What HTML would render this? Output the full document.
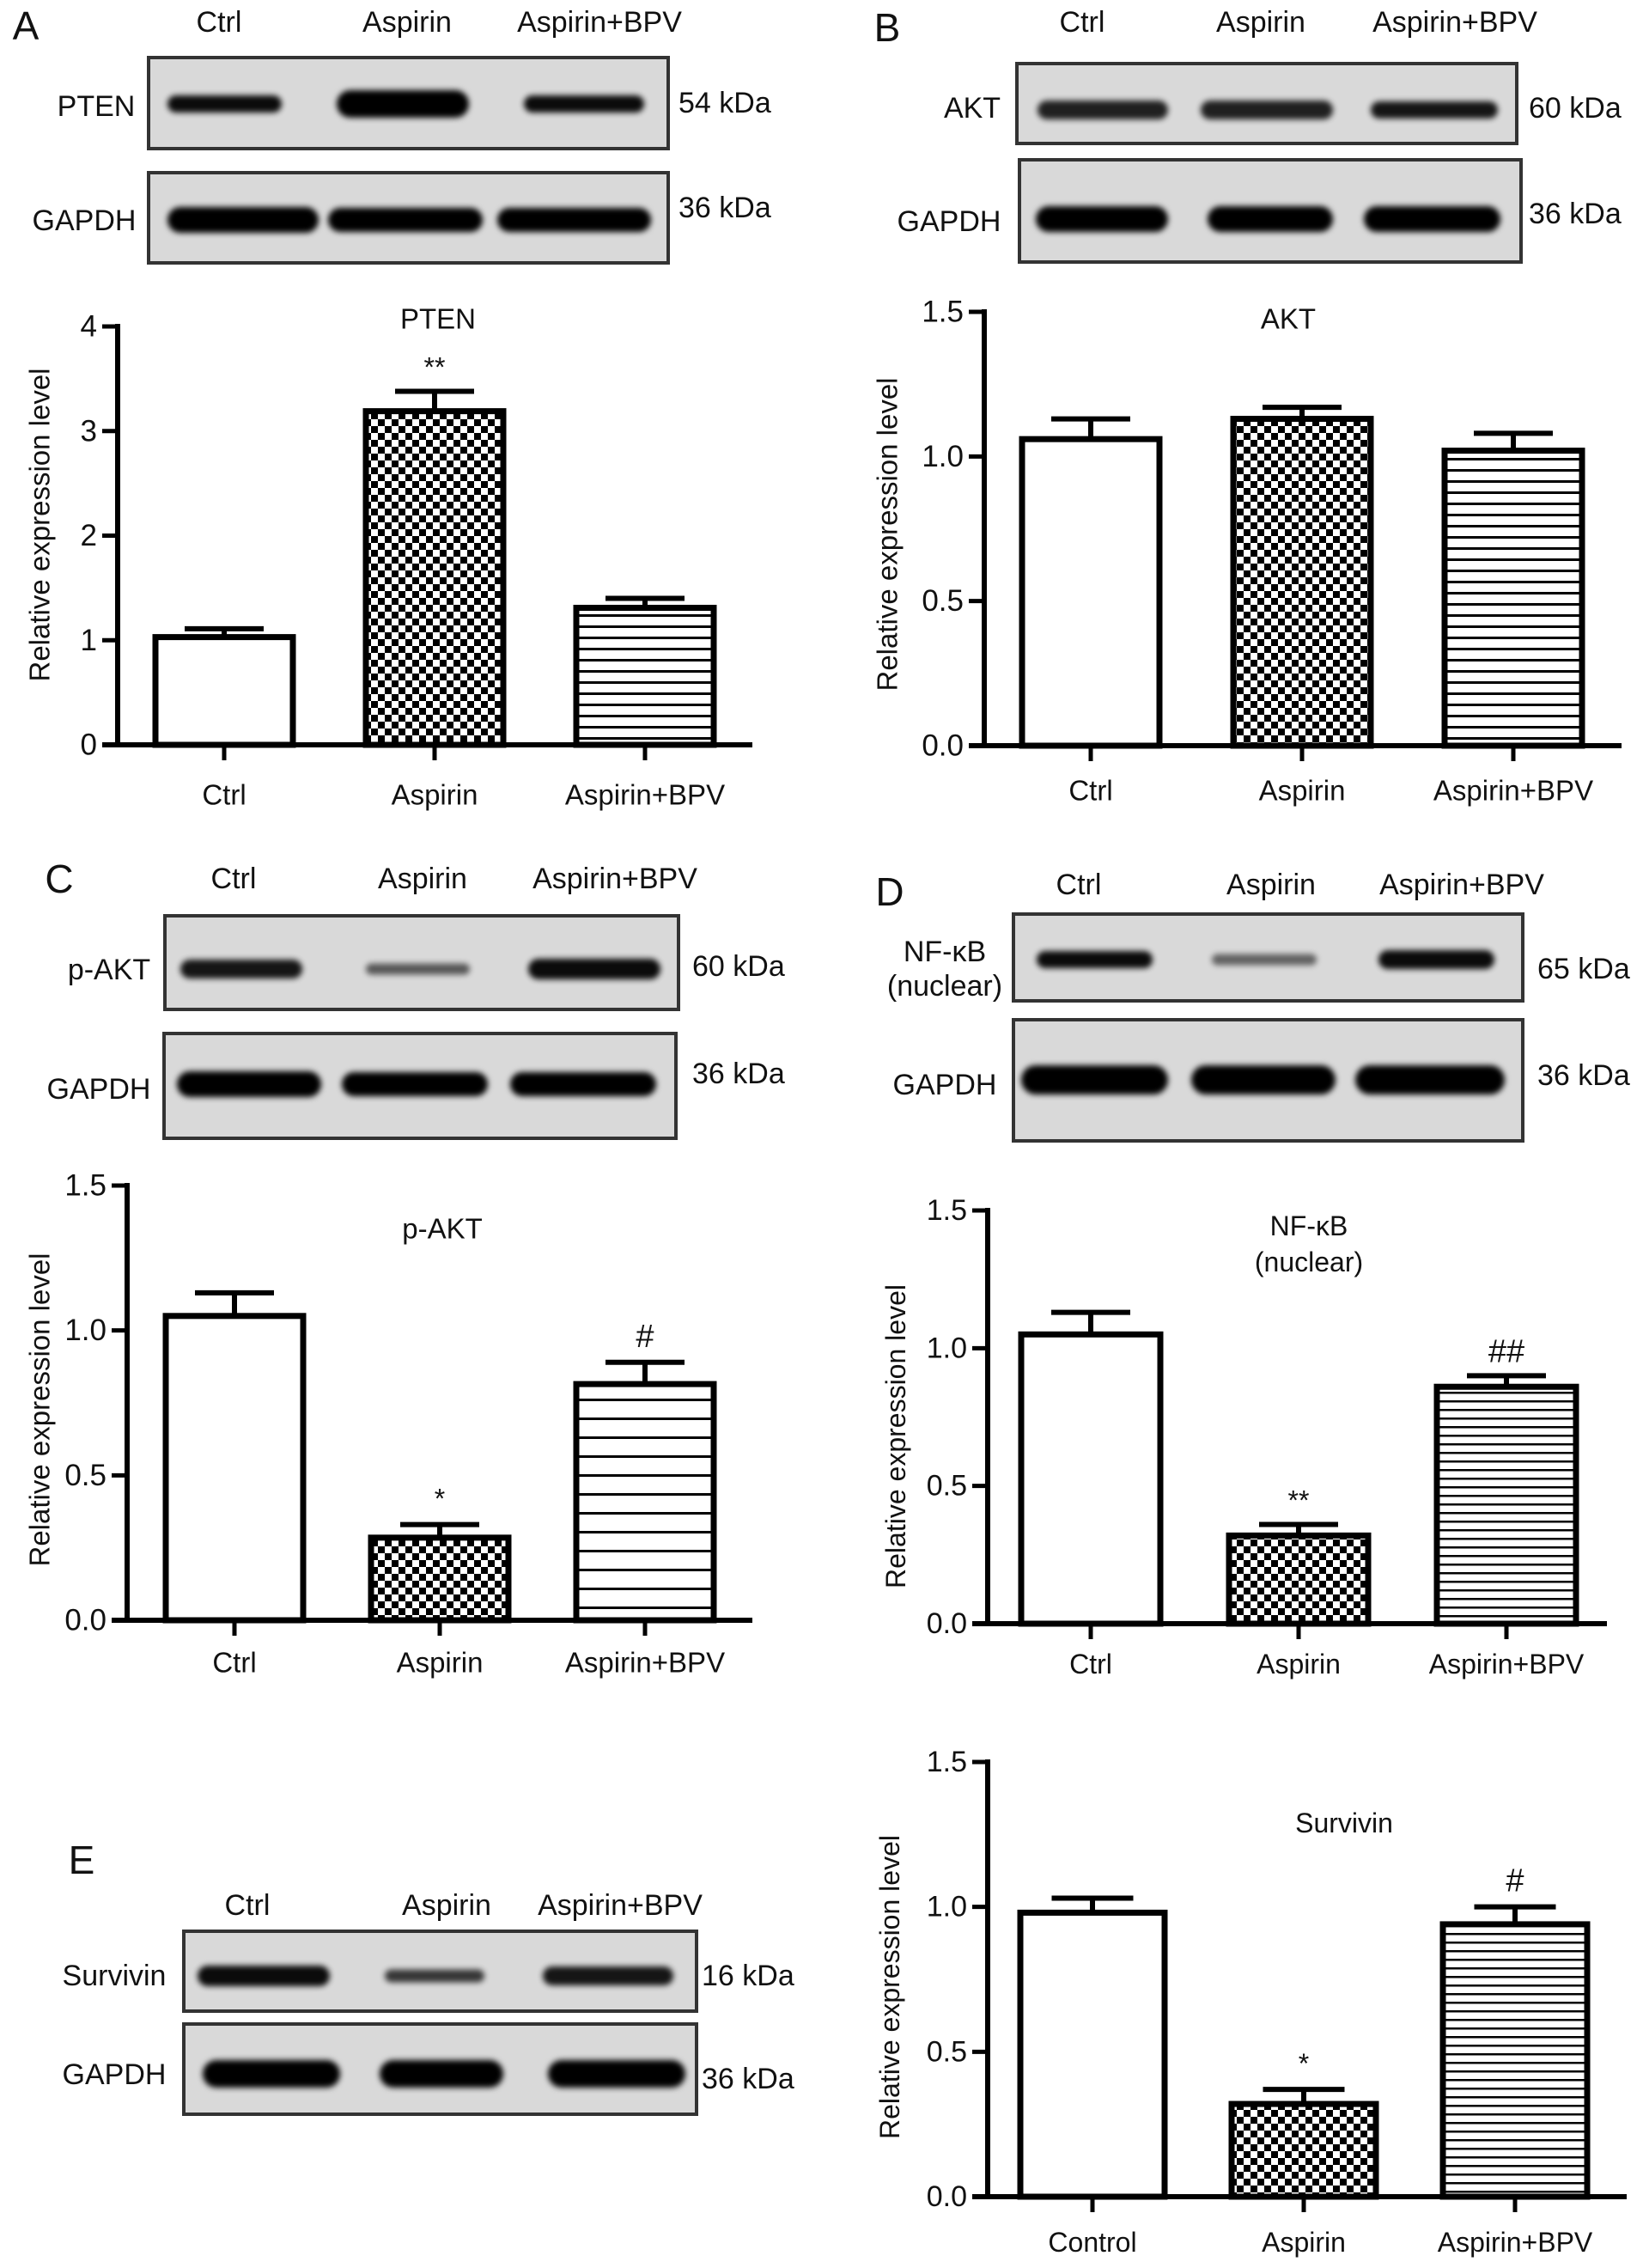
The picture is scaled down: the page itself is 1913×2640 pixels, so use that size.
<!DOCTYPE html>
<html><head><meta charset="utf-8">
<style>
html,body{margin:0;padding:0;background:#fff;}
svg{display:block;font-family:"Liberation Sans",Arial,sans-serif;}
</style></head>
<body>
<svg id="fig" xmlns="http://www.w3.org/2000/svg" width="1913" height="2640" viewBox="0 0 1913 2640">
<defs>
  <pattern id="checker" width="16" height="16" patternUnits="userSpaceOnUse">
    <rect width="16" height="16" fill="#fff"/>
    <rect width="8" height="8" fill="#000"/>
    <rect x="8" y="8" width="8" height="8" fill="#000"/>
  </pattern>
  <pattern id="stripesA" width="10" height="13" patternUnits="userSpaceOnUse">
    <rect width="10" height="13" fill="#fff"/><rect y="0" width="10" height="3" fill="#000"/>
  </pattern>
  <pattern id="stripesC" width="10" height="22" patternUnits="userSpaceOnUse">
    <rect width="10" height="22" fill="#fff"/><rect y="0" width="10" height="3" fill="#000"/>
  </pattern>
  <pattern id="stripesD" width="10" height="10" patternUnits="userSpaceOnUse">
    <rect width="10" height="10" fill="#fff"/><rect y="0" width="10" height="2.5" fill="#000"/>
  </pattern>
  <filter id="blur" x="-20%" y="-100%" width="140%" height="300%"><feGaussianBlur stdDeviation="3.5"/></filter>
</defs>
<g id="root"></g>
</svg>
<script>
// ---------- chart data ----------
const groupsCtrl = ["Ctrl", "Aspirin", "Aspirin+BPV"];
const groupsControl = ["Control", "Aspirin", "Aspirin+BPV"];

const ptenValues = [1.03, 3.19, 1.31];
const ptenErrors = [0.08, 0.19, 0.09];
const ptenMarks = ["", "**", ""];
const ptenTicks = [0, 1, 2, 3, 4];
const ptenTickLabels = ["0", "1", "2", "3", "4"];

const aktValues = [1.06, 1.13, 1.02];
const aktErrors = [0.07, 0.04, 0.06];
const aktMarks = ["", "", ""];
const fracTicks = [0, 0.5, 1.0, 1.5];
const fracTickLabels = ["0.0", "0.5", "1.0", "1.5"];

const pAktValues = [1.05, 0.285, 0.815];
const pAktErrors = [0.08, 0.045, 0.075];
const pAktMarks = ["", "*", "#"];

const nfkbValues = [1.05, 0.32, 0.86];
const nfkbErrors = [0.08, 0.04, 0.04];
const nfkbMarks = ["", "**", "##"];

const survivinValues = [0.98, 0.32, 0.94];
const survivinErrors = [0.05, 0.05, 0.06];
const survivinMarks = ["", "*", "#"];

const fills = ["#fff", "url(#checker)", null];

// ---------- helpers ----------
const NS = "http://www.w3.org/2000/svg";
const root = document.getElementById("root");
function el(tag, attrs, parent) {
  const e = document.createElementNS(NS, tag);
  for (const k in attrs) e.setAttribute(k, attrs[k]);
  (parent || root).appendChild(e);
  return e;
}
function txt(str, x, y, size, anchor, parent, extra) {
  const t = el("text", Object.assign({x: x, y: y, "font-size": size, "text-anchor": anchor || "middle", "dominant-baseline": "central", fill: "#111"}, extra || {}), parent);
  t.textContent = str;
  return t;
}

function drawChart(cfg, cats, vals, errs, marks, ticks, tickLabels) {
  const g = el("g", {});
  
  
  const yScale = v => cfg.y0 - (v / cfg.max) * (cfg.y0 - cfg.yTop);
  const xScale = i => cfg.x0 + i * cfg.step;
  const bw = cfg.bw;
  for (let i = 0; i < vals.length; i++) {
    const cx = xScale(i), top = yScale(vals[i]);
    const b = el("rect", {x: cx - bw/2, y: top, width: bw, height: cfg.y0 - top,
      fill: fills[i] || cfg.stripe, stroke: "#000", "stroke-width": 7}, g);
    
    
    const et = yScale(vals[i] + errs[i]);
    const eb = el("path", {d: `M${cx},${top} V${et} M${cx - cfg.cap/2},${et} H${cx + cfg.cap/2}`, stroke: "#000", "stroke-width": 6, fill: "none"}, g);
    
    
    if (marks[i]) {
      const m = txt(marks[i], cx, et - cfg.markGap, marks[i].includes("#") ? 38 : 32, "middle", g);
      
      
    }
    const tk = el("line", {x1: cx, x2: cx, y1: cfg.y0, y2: cfg.y0 + 18, stroke: "#000", "stroke-width": 5}, g);
    
    
    const lab = txt(cats[i], cx, cfg.xLabY, cfg.fs, "middle", g);
    
    
  }
  const ya = el("line", {x1: cfg.ax, x2: cfg.ax, y1: cfg.yTop - 3, y2: cfg.y0 + 3, stroke: "#000", "stroke-width": 6}, g);
  
  
  const xa = el("line", {x1: cfg.ax - 18, x2: cfg.xEnd, y1: cfg.y0, y2: cfg.y0, stroke: "#000", "stroke-width": 6}, g);
  
  
  for (let i = 0; i < ticks.length; i++) {
    const y = yScale(ticks[i]);
    const t = el("line", {x1: cfg.ax - 18, x2: cfg.ax, y1: y, y2: y, stroke: "#000", "stroke-width": 5}, g);
    
    
    const l = txt(tickLabels[i], cfg.ax - 24, y, cfg.fs + 2, "end", g);
    
    
  }
  const yt = txt("Relative expression level", 0, 0, cfg.fs, "middle", g, {transform: `translate(${cfg.ytX},${cfg.ytY}) rotate(-90)`});
  
  
  cfg.title.forEach((s, k) => {
    const t = txt(s, cfg.titleX, cfg.titleY + k * 42, cfg.fs, "middle", g);
    
    
  });
}

function drawBlot(cfg) {
  const g = el("g", {});
  
  
  const L = txt(cfg.letter, cfg.letterX, cfg.letterY, 46, "middle", g);
  
  
  cfg.heads.forEach((h, i) => {
    const t = txt(h, cfg.headX[i], cfg.headY, 34, "middle", g);
    
    
  });
  cfg.boxes.forEach(b => {
    const r = el("rect", {x: b.x1, y: b.y1, width: b.x2 - b.x1, height: b.y2 - b.y1, fill: "#d9d9d9", stroke: "#333", "stroke-width": 4}, g);
    
    
    b.bands.forEach(bd => {
      const e = el("rect", {x: bd[0], y: b.by - bd[2]/2, width: bd[1] - bd[0], height: bd[2], rx: bd[2]/2, fill: "#000", opacity: bd[3], filter: "url(#blur)"}, g);
      
      
    });
    b.label.forEach((s, k) => {
      const t = txt(s, b.lx, b.ly + k * 40, 34, "middle", g);
      
      
    });
    const kd = txt(b.kda, b.kx, b.ky, 34, "start", g);
    
    
  });
}

// ---------- blots ----------
drawBlot({name: "blot-panel-a", letter: "A", letterX: 30, letterY: 30, heads: groupsCtrl, headX: [255, 474, 698], headY: 26,
  boxes: [
    {x1: 173, x2: 778, y1: 67, y2: 173, by: 121, bands: [[195, 328, 20, 0.95], [392, 546, 32, 1], [610, 750, 20, 0.95]], label: ["PTEN"], lx: 112, ly: 124, kda: "54 kDa", kx: 790, ky: 120},
    {x1: 173, x2: 778, y1: 201, y2: 306, by: 256, bands: [[195, 371, 30, 1], [382, 562, 28, 1], [579, 758, 28, 1]], label: ["GAPDH"], lx: 98, ly: 257, kda: "36 kDa", kx: 790, ky: 242}
  ]});
drawBlot({name: "blot-panel-b", letter: "B", letterX: 1033, letterY: 32, heads: groupsCtrl, headX: [1260, 1468, 1694], headY: 26,
  boxes: [
    {x1: 1184, x2: 1766, y1: 74, y2: 167, by: 128, bands: [[1208, 1360, 22, 0.85], [1398, 1552, 22, 0.85], [1596, 1744, 20, 0.9]], label: ["AKT"], lx: 1132, ly: 126, kda: "60 kDa", kx: 1780, ky: 126},
    {x1: 1187, x2: 1771, y1: 186, y2: 305, by: 255, bands: [[1206, 1360, 30, 1], [1406, 1552, 30, 1], [1588, 1747, 30, 1]], label: ["GAPDH"], lx: 1105, ly: 258, kda: "36 kDa", kx: 1780, ky: 249}
  ]});
drawBlot({name: "blot-panel-c", letter: "C", letterX: 69, letterY: 1023, heads: groupsCtrl, headX: [272, 492, 716], headY: 1023,
  boxes: [
    {x1: 192, x2: 790, y1: 1066, y2: 1175, by: 1128, bands: [[210, 352, 22, 0.9], [426, 547, 13, 0.6], [615, 769, 24, 0.95]], label: ["p-AKT"], lx: 127, ly: 1129, kda: "60 kDa", kx: 806, ky: 1125},
    {x1: 191, x2: 787, y1: 1203, y2: 1325, by: 1262, bands: [[206, 374, 30, 1], [398, 568, 28, 1], [594, 764, 28, 1]], label: ["GAPDH"], lx: 115, ly: 1268, kda: "36 kDa", kx: 806, ky: 1250}
  ]});
drawBlot({name: "blot-panel-d", letter: "D", letterX: 1036, letterY: 1038, heads: groupsCtrl, headX: [1256, 1480, 1702], headY: 1030,
  boxes: [
    {x1: 1180, x2: 1773, y1: 1064, y2: 1165, by: 1117, bands: [[1207, 1342, 20, 0.95], [1411, 1533, 13, 0.55], [1605, 1740, 22, 0.95]], label: ["NF-κB", "(nuclear)"], lx: 1100, ly: 1108, kda: "65 kDa", kx: 1790, ky: 1128},
    {x1: 1180, x2: 1773, y1: 1187, y2: 1328, by: 1257, bands: [[1189, 1360, 34, 1], [1387, 1555, 34, 1], [1578, 1752, 34, 1]], label: ["GAPDH"], lx: 1100, ly: 1263, kda: "36 kDa", kx: 1790, ky: 1252}
  ]});
drawBlot({name: "blot-panel-e", letter: "E", letterX: 95, letterY: 2165, heads: groupsCtrl, headX: [288, 520, 722], headY: 2218,
  boxes: [
    {x1: 214, x2: 811, y1: 2248, y2: 2341, by: 2300, bands: [[230, 384, 24, 0.95], [448, 564, 15, 0.75], [632, 784, 22, 0.9]], label: ["Survivin"], lx: 133, ly: 2300, kda: "16 kDa", kx: 817, ky: 2300},
    {x1: 214, x2: 811, y1: 2356, y2: 2461, by: 2414, bands: [[236, 396, 32, 1], [442, 586, 32, 1], [638, 798, 32, 1]], label: ["GAPDH"], lx: 133, ly: 2415, kda: "36 kDa", kx: 817, ky: 2420}
  ]});

// ---------- charts ----------
drawChart({name: "chart-pten", ax: 137, y0: 867, yTop: 380, max: 4, x0: 261, step: 245, bw: 160, cap: 92, xEnd: 876, xLabY: 925,
  stripe: "url(#stripesA)", fs: 33, ytX: 46, ytY: 611, title: ["PTEN"], titleX: 510, titleY: 371, markGap: 28},
  groupsCtrl, ptenValues, ptenErrors, ptenMarks, ptenTicks, ptenTickLabels);
drawChart({name: "chart-akt", ax: 1146, y0: 868, yTop: 363, max: 1.5, x0: 1270, step: 246, bw: 160, cap: 92, xEnd: 1888, xLabY: 920,
  stripe: "url(#stripesA)", fs: 33, ytX: 1033, ytY: 622, title: ["AKT"], titleX: 1500, titleY: 371, markGap: 28},
  groupsCtrl, aktValues, aktErrors, aktMarks, fracTicks, fracTickLabels);
drawChart({name: "chart-p-akt", ax: 148, y0: 1886, yTop: 1380, max: 1.5, x0: 273, step: 239, bw: 160, cap: 92, xEnd: 876, xLabY: 1935,
  stripe: "url(#stripesC)", fs: 33, ytX: 46, ytY: 1641, title: ["p-AKT"], titleX: 515, titleY: 1430, markGap: 30},
  groupsCtrl, pAktValues, pAktErrors, pAktMarks, fracTicks, fracTickLabels);
drawChart({name: "chart-nfkb", ax: 1150, y0: 1890, yTop: 1409, max: 1.5, x0: 1270, step: 242, bw: 162, cap: 92, xEnd: 1871, xLabY: 1937,
  stripe: "url(#stripesD)", fs: 32, ytX: 1043, ytY: 1672, title: ["NF-κB", "(nuclear)"], titleX: 1524, titleY: 1427, markGap: 28},
  groupsCtrl, nfkbValues, nfkbErrors, nfkbMarks, fracTicks, fracTickLabels);
drawChart({name: "chart-survivin", ax: 1150, y0: 2557, yTop: 2051, max: 1.5, x0: 1272, step: 246, bw: 168, cap: 95, xEnd: 1894, xLabY: 2610,
  stripe: "url(#stripesD)", fs: 32, ytX: 1036, ytY: 2313, title: ["Survivin"], titleX: 1565, titleY: 2122, markGap: 30},
  groupsControl, survivinValues, survivinErrors, survivinMarks, fracTicks, fracTickLabels);
</script>
</body></html>
